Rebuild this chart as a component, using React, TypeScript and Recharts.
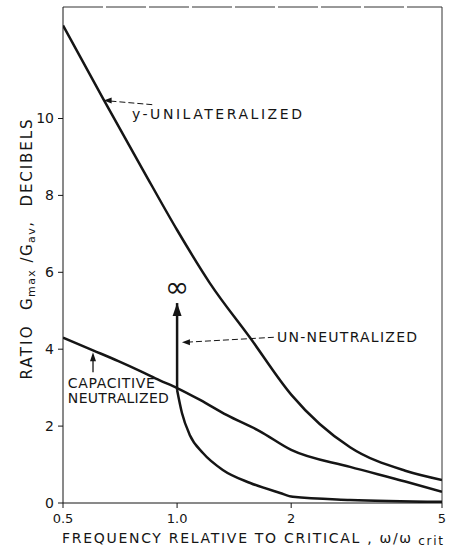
import React from "react";
import {
  LineChart,
  Line,
  XAxis,
  YAxis,
  ReferenceLine,
  ReferenceDot
} from "recharts";

// frequency relative to critical (w / w_crit), log axis
const xTicks = [0.5, 1, 2, 5];
const yTicks = [0, 2, 4, 6, 8, 10];
const yTop = 12.9;

// y-unilateralized curve
const unilatFreq = [0.5, 0.64, 0.813, 1.0, 1.22, 1.56, 2.0, 2.86, 4.0, 5.0];
const unilatDb = [12.42, 10.49, 8.66, 7.1, 5.72, 4.29, 2.82, 1.45, 0.84, 0.6];

// capacitive neutralized curve
const capFreq = [0.5, 0.6, 0.7, 0.8, 0.9, 1.0, 1.15, 1.35, 1.65, 2.0, 2.86, 4.0, 5.0];
const capDb = [4.3, 3.97, 3.69, 3.43, 3.19, 2.99, 2.68, 2.29, 1.87, 1.38, 0.94, 0.56, 0.29];

// un-neutralized curve (goes to infinity at w = w_crit)
const unneutFreq = [1.0, 1.03, 1.08, 1.17, 1.32, 1.56, 1.87, 2.02, 2.86, 5.0];
const unneutDb = [2.94, 2.34, 1.77, 1.3, 0.86, 0.52, 0.26, 0.16, 0.08, 0.03];
const infFreq = [1.0, 1.0];
const infDb = [2.94, 5.2];

const toRows = (fs: number[], vs: number[]) => fs.map((f, i) => ({ f, v: vs[i] }));

const unilatData = toRows(unilatFreq, unilatDb);
const capData = toRows(capFreq, capDb);
const unneutData = toRows(unneutFreq, unneutDb);
const infData = toRows(infFreq, infDb);

const FONT = "'DejaVu Sans', sans-serif";
const INK = "#151515";

const fmtX = (v: number) => (v === 0.5 ? "0.5" : v === 1 ? "1.0" : String(v));

const arrowLeft = (p: any) => (
  <polygon
    points={`${p.cx},${p.cy} ${p.cx + 8},${p.cy - 3} ${p.cx + 8},${p.cy + 3}`}
    fill={INK}
  />
);

const arrowUp = (p: any) => (
  <polygon
    points={`${p.cx},${p.cy} ${p.cx - 3},${p.cy + 9} ${p.cx + 3},${p.cy + 9}`}
    fill={INK}
  />
);

const bigArrow = (p: any) => (
  <g>
    <polygon
      points={`${p.cx},${p.cy} ${p.cx - 4.5},${p.cy + 13} ${p.cx + 4.5},${p.cy + 13}`}
      fill={INK}
    />
    <text
      x={p.cx}
      y={p.cy - 6}
      textAnchor="middle"
      fontFamily={FONT}
      fontSize={29}
      fill={INK}
    >
      ∞
    </text>
  </g>
);

const note = (lines: string[], widths: number[]) => (p: any) => (
  <g>
    {lines.map((s, i) => (
      <text
        key={s}
        x={p.cx}
        y={p.cy + i * 15}
        fontFamily={FONT}
        fontSize={14}
        fill={INK}
        textLength={widths[i]}
        lengthAdjust="spacing"
      >
        {s}
      </text>
    ))}
  </g>
);

const YTitle = (props: any) => {
  const vb = props.viewBox || { x: 0, y: 7, width: 63, height: 496 };
  const cx = 27;
  const parts = [
    { y: 353, len: 53, el: <tspan>RATIO</tspan> },
    {
      y: 266,
      len: 88,
      el: (
        <>
          <tspan>G</tspan>
          <tspan fontSize={11} dy={4}>max</tspan>
          <tspan dy={-4}> /G</tspan>
          <tspan fontSize={11} dy={4}>av</tspan>
          <tspan dy={-4}>,</tspan>
        </>
      )
    },
    { y: 163, len: 87, el: <tspan>DECIBELS</tspan> }
  ];
  return (
    <g>
      {parts.map((pt, i) => (
        <text
          key={i}
          x={cx}
          y={pt.y + (vb.y - 7)}
          transform={`rotate(-90, ${cx}, ${pt.y + (vb.y - 7)})`}
          textAnchor="middle"
          dominantBaseline="central"
          fontFamily={FONT}
          fontSize={15}
          fill={INK}
          textLength={pt.len}
          lengthAdjust="spacing"
        >
          {pt.el}
        </text>
      ))}
    </g>
  );
};

const XTitle = (props: any) => {
  const vb = props.viewBox || { x: 63, y: 503, width: 379, height: 49 };
  return (
    <text
      x={vb.x - 1}
      y={vb.y + 40}
      fontFamily={FONT}
      fontSize={14}
      fill={INK}
      textLength={381}
      lengthAdjust="spacing"
    >
      <tspan>FREQUENCY  RELATIVE  TO  CRITICAL ,  ω/ω</tspan>
      <tspan fontSize={12} dy={2}> crit</tspan>
    </text>
  );
};

export default function App() {
  return (
    <div style={{ position: "absolute", left: 0, top: 0, background: "#fff" }}>
      <LineChart
        width={455}
        height={552}
        margin={{ top: 7, right: 13, bottom: 0, left: 0 }}
      >
        <XAxis
          dataKey="f"
          type="number"
          scale="log"
          domain={[0.5, 5]}
          allowDataOverflow
          ticks={xTicks}
          tickFormatter={fmtX}
          height={49}
          tickSize={5}
          tickMargin={6}
          stroke={INK}
          tick={{ fill: INK, fontSize: 13, fontFamily: FONT }}
          label={{ content: XTitle }}
        />
        <YAxis
          type="number"
          domain={[0, yTop]}
          allowDataOverflow
          ticks={yTicks}
          width={63}
          tickSize={5}
          tickMargin={4}
          stroke={INK}
          tick={{ fill: INK, fontSize: 14, fontFamily: FONT }}
          label={{ content: YTitle }}
        />
        <ReferenceLine y={yTop} stroke="#333" strokeWidth={1} strokeDasharray="40 3" />
        <ReferenceLine x={5} stroke="#333" strokeWidth={1} />

        <Line
          data={unilatData}
          dataKey="v"
          type="monotone"
          stroke={INK}
          strokeWidth={2.5}
          dot={false}
          isAnimationActive={false}
        />
        <Line
          data={capData}
          dataKey="v"
          type="monotone"
          stroke={INK}
          strokeWidth={2.5}
          dot={false}
          isAnimationActive={false}
        />
        <Line
          data={unneutData}
          dataKey="v"
          type="monotone"
          stroke={INK}
          strokeWidth={2.5}
          dot={false}
          isAnimationActive={false}
        />
        <Line
          data={infData}
          dataKey="v"
          type="linear"
          stroke={INK}
          strokeWidth={2.5}
          dot={false}
          isAnimationActive={false}
        />
        <ReferenceDot x={1.0} y={5.2} shape={bigArrow} />

        {/* y-unilateralized note */}
        <ReferenceLine
          segment={[{ x: 0.86, y: 10.36 }, { x: 0.655, y: 10.46 }]}
          stroke={INK}
          strokeWidth={1}
          strokeDasharray="6 3"
        />
        <ReferenceDot x={0.64} y={10.47} shape={arrowLeft} />
        <ReferenceDot x={0.76} y={10.0} shape={note(["y-UNILATERALIZED"], [170])} />

        {/* un-neutralized note */}
        <ReferenceLine
          segment={[{ x: 1.8, y: 4.31 }, { x: 1.05, y: 4.18 }]}
          stroke={INK}
          strokeWidth={1}
          strokeDasharray="6 3"
        />
        <ReferenceDot x={1.03} y={4.18} shape={arrowLeft} />
        <ReferenceDot x={1.835} y={4.18} shape={note(["UN-NEUTRALIZED"], [140])} />

        {/* capacitive neutralized note */}
        <ReferenceLine
          segment={[{ x: 0.6, y: 3.4 }, { x: 0.6, y: 3.8 }]}
          stroke={INK}
          strokeWidth={1.3}
        />
        <ReferenceDot x={0.6} y={3.92} shape={arrowUp} />
        <ReferenceDot
          x={0.515}
          y={2.99}
          shape={note(["CAPACITIVE", "NEUTRALIZED"], [87, 101])}
        />
      </LineChart>
    </div>
  );
}
